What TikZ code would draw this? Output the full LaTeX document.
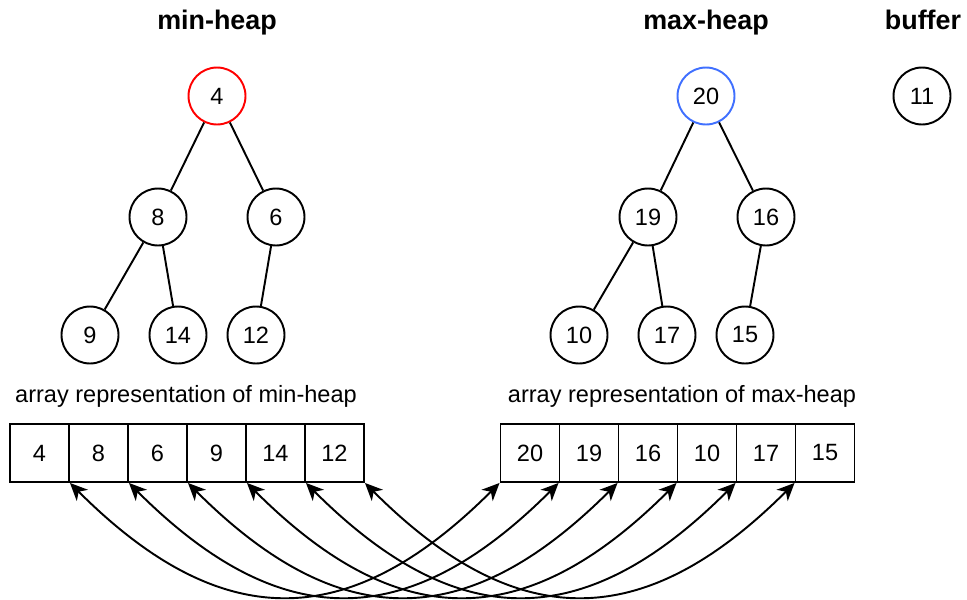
\documentclass[tikz,border=0pt]{standalone}
\usepackage{fontspec}
\setmainfont{Liberation Sans}
\usepackage{tikz}
\usetikzlibrary{arrows.meta}
\definecolor{minred}{RGB}{255,0,0}
\definecolor{maxblue}{RGB}{64,112,255}

\begin{document}
\begin{tikzpicture}[x=0.02cm,y=-0.02cm,
  line width=1.1pt,
  heap/.style = {circle,draw,minimum size=1.14cm,inner sep=0pt,
  font=\fontsize{13.4}{16}\selectfont},
  cell/.style = {draw,minimum width=1.18cm,minimum height=1.16cm,inner sep=0pt,
  font=\fontsize{13.4}{16}\selectfont},
  title/.style = {anchor=base,font=\fontsize{15.3}{18}\selectfont\bfseries},
  caption/.style = {anchor=base,font=\fontsize{13.4}{16}\selectfont},
  link/.style = {{Stealth[length=10pt,width=9pt,inset=3pt]}-{Stealth[length=10pt,width=9pt,inset=3pt]}}]
 \useasboundingbox (0,0) rectangle (967,599);
 % titles
 \node[title] (tmin) at (217,29) {min-heap};
 \node[title] (tmax) at (706,29) {max-heap};
 \node[title] (tbuf) at (923,29) {buffer};
 % min-heap
 \node[heap,draw=minred] (n4) at (217,96) {4};
 \node[heap] (n8)  at (158,217) {8};
 \node[heap] (n6)  at (276,217) {6};
 \node[heap] (n9)  at (90,335)  {9};
 \node[heap] (n14) at (178,335) {14};
 \node[heap] (n12) at (256,335) {12};
 \path (n4) edge (n8) (n4) edge (n6)
  (n8) edge (n9) (n8) edge (n14) (n6) edge (n12);
 % max-heap
 \node[heap,draw=maxblue] (n20) at (706,96) {20};
 \node[heap] (n19) at (648,217) {19};
 \node[heap] (n16) at (766,217) {16};
 \node[heap] (n10) at (579,335) {10};
 \node[heap] (n17) at (667,335) {17};
 \node[heap] (n15) at (745,335) {15};
 \path (n20) edge (n19) (n20) edge (n16)
  (n19) edge (n10) (n19) edge (n17) (n16) edge (n15);
 % buffer
 \node[heap] (n11) at (922,96) {11};
 % arrays
 \node[caption] (cmin) at (186,402) {array representation of min-heap};
 \node[caption] (cmax) at (682,402) {array representation of max-heap};
 \node[cell] (lo1) at (39.5,453)  {4};
 \node[cell] (lo2) at (98.5,453)  {8};
 \node[cell] (lo3) at (157.5,453) {6};
 \node[cell] (lo4) at (216.5,453) {9};
 \node[cell] (lo5) at (275.5,453) {14};
 \node[cell] (lo6) at (334.5,453) {12};
 \node[cell] (hi1) at (530,453) {20};
 \node[cell] (hi2) at (589,453) {19};
 \node[cell] (hi3) at (648,453) {16};
 \node[cell] (hi4) at (707,453) {10};
 \node[cell] (hi5) at (766,453) {17};
 \node[cell] (hi6) at (825,453) {15};
 \begin{scope}[link]
  \draw (lo1.south east) .. controls +(151,151) and +(-151,151) .. (hi1.south west);
  \draw (lo2.south east) .. controls +(151,151) and +(-151,151) .. (hi2.south west);
  \draw (lo3.south east) .. controls +(151,151) and +(-151,151) .. (hi3.south west);
  \draw (lo4.south east) .. controls +(151,151) and +(-151,151) .. (hi4.south west);
  \draw (lo5.south east) .. controls +(151,151) and +(-151,151) .. (hi5.south west);
  \draw (lo6.south east) .. controls +(151,151) and +(-151,151) .. (hi6.south west);
 \end{scope}
\end{tikzpicture}
\end{document}
